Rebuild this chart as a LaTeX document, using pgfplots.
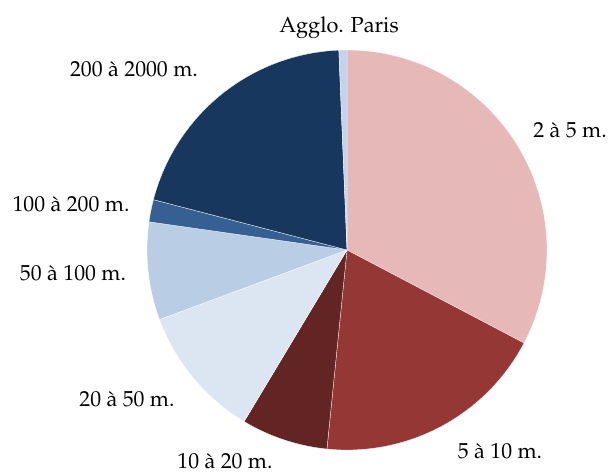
\documentclass[border=0pt]{standalone}
\IfFileExists{mathpazo.sty}{\usepackage[T1]{fontenc}\usepackage{mathpazo}}{\usepackage{fontspec}\setmainfont{Liberation Serif}}
\usepackage{pgfplots}
\pgfplotsset{compat=1.18}
\definecolor{cA}{HTML}{E6B9B8}
\definecolor{cB}{HTML}{953735}
\definecolor{cC}{HTML}{632523}
\definecolor{cD}{HTML}{DCE6F2}
\definecolor{cE}{HTML}{B9CDE5}
\definecolor{cF}{HTML}{376092}
\definecolor{cG}{HTML}{17375E}
\definecolor{cH}{HTML}{C5D3EA}
\tikzset{lbl/.style={font=\fontsize{21.8}{26}\selectfont, inner sep=0pt, anchor=base}}
\newcommand\cum{0}
\newcommand\slice[2]{%
  \pgfmathsetmacro\endv{\cum+#1}%
  \edef\tmp{\noexpand\addplot[fill=#2, draw=white, line width=0.3pt, domain=\cum:\endv, samples=120]
    ({347+200*sin(3.6*x)},{225+200*cos(3.6*x)}) -- (axis cs:347,225) -- cycle;}%
  \tmp
  \xdef\cum{\endv}%
}
\begin{document}
\begin{tikzpicture}
\begin{axis}[
  width=610bp, height=475bp, scale only axis,
  xmin=0, xmax=610, ymin=0, ymax=475,
  hide axis, clip=false,
]
\path (axis cs:0,0) rectangle (axis cs:610,475);
% shares in percent, clockwise from the top
\slice{32.7}{cA}
\slice{18.9}{cB}
\slice{7.0}{cC}
\slice{10.75}{cD}
\slice{7.9}{cE}
\slice{1.8}{cF}
\slice{20.3}{cG}
\slice{0.65}{cH}
\node[lbl] at (axis cs:339,442) {Agglo. Paris};
\node[lbl] at (axis cs:570,337) {2 \`a 5 m.};
\node[lbl] at (axis cs:500,17) {5 \`a 10 m.};
\node[lbl] at (axis cs:225,7) {10 \`a 20 m.};
\node[lbl] at (axis cs:127,69) {20 \`a 50 m.};
\node[lbl] at (axis cs:73,195) {50 \`a 100 m.};
\node[lbl] at (axis cs:71,263) {100 \`a 200 m.};
\node[lbl] at (axis cs:134,398) {200 \`a 2000 m.};
\end{axis}
\end{tikzpicture}
\end{document}
